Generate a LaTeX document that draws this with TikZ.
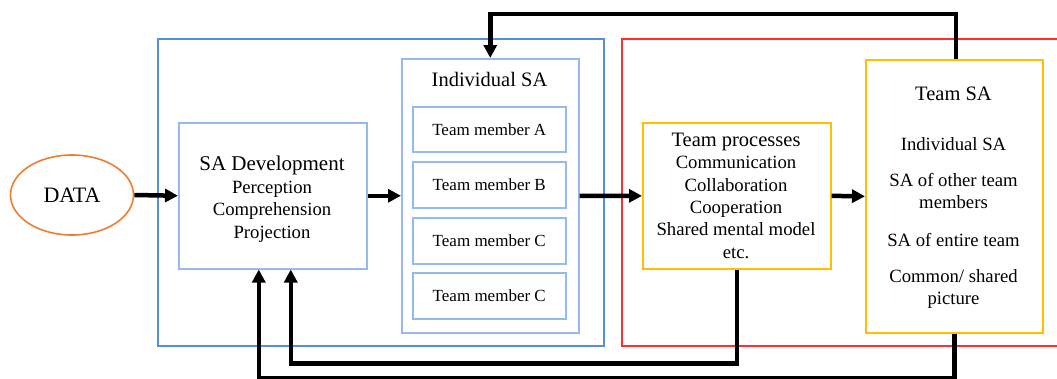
\documentclass[tikz,border=0pt]{standalone}
\usepackage{fontspec}
\setmainfont{Liberation Serif}
\usetikzlibrary{arrows.meta,shapes.geometric}
\definecolor{outblue}{RGB}{86,142,222}
\definecolor{inblue}{RGB}{150,186,240}
\definecolor{redb}{RGB}{255,45,45}
\definecolor{yel}{RGB}{255,192,0}
\definecolor{orng}{RGB}{237,125,49}
\newcommand\fsz[2]{\fontsize{#1}{#2}\selectfont}
\begin{document}
\begin{tikzpicture}[x=1pt,y=-1pt,
  box/.style={draw, line width=1.5pt, inner sep=0pt, anchor=north west},
  outerblue/.style={box, draw=outblue},
  innerblue/.style={box, draw=inblue},
  redbox/.style={box, draw=redb},
  yelbox/.style={box, draw=yel, line width=1.7pt},
  txt/.style={inner sep=0pt, anchor=base, align=center, font=\fsz{18.7}{22.4}},
  memtxt/.style={inner sep=0pt, font=\fsz{17}{19}},
  arr/.style={line width=4.5pt, -{Triangle[length=13pt,width=13pt]}}]
\useasboundingbox (0,0) rectangle (1057,378);
\clip (0,0) rectangle (1057,378);

% containers
\node[outerblue, minimum width=446pt, minimum height=307pt] (blue) at (157,38) {};
\node[redbox, minimum width=450pt, minimum height=307pt] (red) at (621,38) {};

% DATA
\node[ellipse, draw=orng, line width=1.6pt, minimum width=123pt, minimum height=80pt,
      font=\fsz{22}{26}, inner sep=0pt] (data) at (72,195) {DATA};

% SA development (anchor base = last line baseline)
\node[innerblue, minimum width=188pt, minimum height=146pt] (sadev) at (178,122) {};
\node[txt] (sadevt) at (272,238) {{\fsz{21}{23}SA Development}\\Perception\\Comprehension\\Projection};

% Individual SA
\node[innerblue, minimum width=177pt, minimum height=274pt] (indsa) at (401,58) {};
\node[txt, font=\fsz{20.5}{23}] (indsat) at (489.5,86) {Individual SA};
\node[innerblue, minimum width=153pt, minimum height=45pt] (ma) at (412,106) {};
\node[innerblue, minimum width=153pt, minimum height=46pt] (mb) at (412,161) {};
\node[innerblue, minimum width=153pt, minimum height=46pt] (mc) at (412,217) {};
\node[innerblue, minimum width=153pt, minimum height=46pt] (md) at (412,272) {};
\node[memtxt] (mat) at (ma.center) {Team member A};
\node[memtxt] (mbt) at (mb.center) {Team member B};
\node[memtxt] (mct) at (mc.center) {Team member C};
\node[memtxt] (mdt) at (md.center) {Team member C};

% Team processes
\node[yelbox, minimum width=188pt, minimum height=146pt] (tp) at (642,122) {};
\node[txt, font=\fsz{18.7}{22.3}] (tpt) at (736,258) {{\fsz{20.5}{23}Team processes}\\Communication\\Collaboration\\Cooperation\\Shared mental model\\etc.};

% Team SA
\node[yelbox, minimum width=177pt, minimum height=273pt] (teamsa) at (865,59) {};
\node[txt, font=\fsz{20.5}{23}] (tsa0) at (953.5,100) {Team SA};
\node[txt] (tsa1) at (953.5,150) {Individual SA};
\node[txt, font=\fsz{18.7}{21.6}] (tsa2) at (953.5,208) {SA of other team\\members};
\node[txt] (tsa3) at (953.5,246) {SA of entire team};
\node[txt, font=\fsz{18.7}{21.6}] (tsa4) at (953.5,304) {Common/ shared\\picture};

% main flow
\draw[arr] (data.east) -- (sadev.west);
\draw[arr] (sadev.east) -- (indsa.west);
\draw[arr] (indsa.east) -- (tp.west);
\draw[arr] (tp.east) -- (teamsa.west);

% feedback loops
\draw[arr] ([xshift=1.5pt]teamsa.north) -- ++(0,-45) -| (indsa.north);
\draw[arr] (tp.south) -- ++(0,94) -| ([xshift=18pt]sadev.south);
\draw[arr] (teamsa.south) -- ++(0,45) -| ([xshift=-14pt]sadev.south);
\end{tikzpicture}
\end{document}
